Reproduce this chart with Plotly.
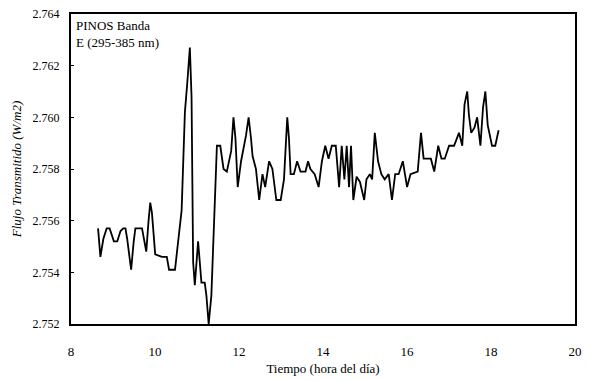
import plotly.graph_objects as go

hours = [8.644, 8.70, 8.771, 8.849, 8.92, 9.021, 9.101, 9.179, 9.243, 9.297, 9.337, 9.432, 9.493, 9.533,
         9.691, 9.745, 9.792, 9.847, 9.887, 9.927, 10.005, 10.163, 10.281, 10.335, 10.476, 10.634, 10.712,
         10.767, 10.83, 10.87, 10.908, 10.948, 11.026, 11.106, 11.184, 11.224, 11.278, 11.342, 11.42,
         11.474, 11.554, 11.632, 11.71, 11.814, 11.868, 11.915, 11.969, 12.049, 12.167, 12.229, 12.285,
         12.323, 12.403, 12.481, 12.559, 12.623, 12.717, 12.795, 12.889, 12.993, 13.071, 13.125, 13.149,
         13.189, 13.229, 13.307, 13.384, 13.465, 13.583, 13.644, 13.70, 13.802, 13.896, 13.974, 14.054,
         14.132, 14.21, 14.304, 14.384, 14.446, 14.509, 14.564, 14.62, 14.667, 14.722, 14.80, 14.88,
         14.981, 15.035, 15.116, 15.17, 15.233, 15.311, 15.389, 15.469, 15.564, 15.642, 15.719, 15.80,
         15.901, 16.002, 16.083, 16.255, 16.333, 16.396, 16.568, 16.649, 16.743, 16.821, 16.899, 17.002,
         17.12, 17.238, 17.316, 17.37, 17.434, 17.474, 17.528, 17.606, 17.67, 17.748, 17.811, 17.866,
         17.922, 18.024, 18.101, 18.181]

flux = [2.7557, 2.7546, 2.7553, 2.7557, 2.7557, 2.7552, 2.7552, 2.7556, 2.7557, 2.7557, 2.7553, 2.7541,
        2.7552, 2.7557, 2.7557, 2.7552, 2.7548, 2.7560, 2.7567, 2.7563, 2.7547, 2.7546, 2.7546, 2.7541,
        2.7541, 2.7564, 2.7602, 2.7613, 2.7627, 2.7608, 2.7544, 2.7535, 2.7552, 2.7536, 2.7536, 2.7531,
        2.7520, 2.7531, 2.7570, 2.7589, 2.7589, 2.7580, 2.7579, 2.7587, 2.7600, 2.7592, 2.7573, 2.7583,
        2.7593, 2.7600, 2.7592, 2.7585, 2.7580, 2.7568, 2.7578, 2.7573, 2.7583, 2.7580, 2.7568, 2.7568,
        2.7576, 2.7593, 2.7600, 2.7592, 2.7578, 2.7578, 2.7583, 2.7579, 2.7579, 2.7583, 2.7580, 2.7578,
        2.7573, 2.7583, 2.7589, 2.7584, 2.7589, 2.7589, 2.7573, 2.7589, 2.7576, 2.7589, 2.7573, 2.7589,
        2.7568, 2.7577, 2.7575, 2.7568, 2.7576, 2.7578, 2.7576, 2.7594, 2.7583, 2.7578, 2.7576, 2.7578,
        2.7568, 2.7578, 2.7578, 2.7583, 2.7573, 2.7578, 2.7579, 2.7594, 2.7584, 2.7584, 2.7579, 2.7589,
        2.7584, 2.7584, 2.7589, 2.7589, 2.7594, 2.7589, 2.7605, 2.7610, 2.7601, 2.7594, 2.7596, 2.7600,
        2.7589, 2.7604, 2.7610, 2.7597, 2.7589, 2.7589, 2.7595]

x_ticks = [8, 10, 12, 14, 16, 18, 20]
y_ticks = [2.752, 2.754, 2.756, 2.758, 2.760, 2.762, 2.764]

font = "'Liberation Serif', 'Times New Roman', 'DejaVu Serif', serif"

fig = go.Figure()
fig.add_trace(go.Scatter(x=hours, y=flux, mode="lines",
                         line=dict(color="black", width=1.8), showlegend=False))

fig.update_layout(
    width=589, height=381,
    margin=dict(l=71, r=7, t=12, b=55),
    paper_bgcolor="white", plot_bgcolor="white",
    font=dict(family=font, size=12, color="black"),
    xaxis=dict(range=[8, 20], tickvals=x_ticks, ticktext=[str(v) for v in x_ticks],
               showgrid=False, zeroline=False, showline=True, linecolor="black", linewidth=2,
               mirror=True, ticks="", ticklabelstandoff=14, tickfont=dict(family=font, size=13),
               title=dict(text="Tiempo (hora del día)", standoff=6,
                          font=dict(family=font, size=13))),
    yaxis=dict(range=[2.752, 2.764], tickvals=y_ticks, ticktext=[f"{v:.3f}" for v in y_ticks],
               showgrid=False, zeroline=False, showline=True, linecolor="black", linewidth=2,
               mirror=True, ticks="inside", ticklen=3, tickcolor="black", ticklabelstandoff=7,
               tickfont=dict(family=font, size=12),
               title=dict(text="<i>Flujo Transmitido (W/m2)</i>", standoff=8,
                          font=dict(family=font, size=13))),
    annotations=[dict(x=0.005, y=0.995, xref="paper", yref="paper", xanchor="left", yanchor="top",
                      align="left", showarrow=False,
                      text="PINOS Banda<br>E (295-385 nm)",
                      font=dict(family=font, size=13, color="black"))],
)

fig.write_html("out.html")
